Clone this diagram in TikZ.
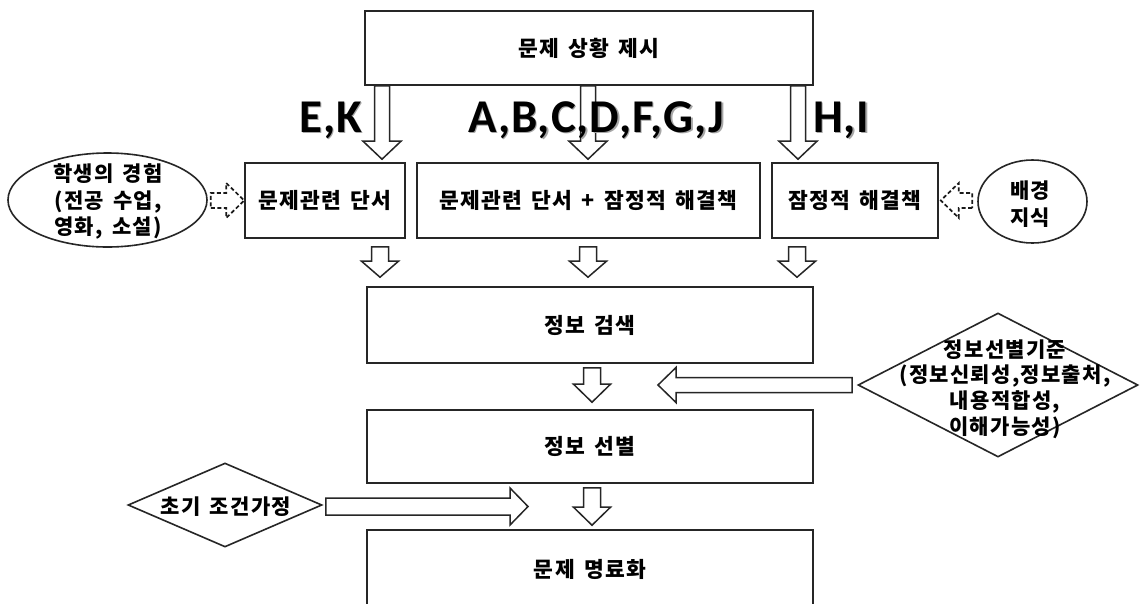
\documentclass[tikz,border=0pt]{standalone}
\usepackage{fontspec}
\newfontfamily\kr[LetterSpace=6, WordSpace=1.5]{Noto Sans CJK KR}
\newfontfamily\lab[LetterSpace=2]{Carlito}
\usetikzlibrary{shapes.geometric,calc}

% hollow block arrows: [style]{start}{tip}{half shaft}{half head}{head length}
\newcommand\bdown[6][]{\draw[blk,#1] let \p1=#2, \p2=#3 in
  (\x1-#4pt,\y1) -- (\x1-#4pt,\y2+#6pt) -- (\x1-#5pt,\y2+#6pt) -- (\x1,\y2)
  -- (\x1+#5pt,\y2+#6pt) -- (\x1+#4pt,\y2+#6pt) -- (\x1+#4pt,\y1) -- cycle;}
\newcommand\bright[6][]{\draw[blk,#1] let \p1=#2, \p2=#3 in
  (\x1,\y1-#4pt) -- (\x2-#6pt,\y1-#4pt) -- (\x2-#6pt,\y1-#5pt) -- (\x2,\y1)
  -- (\x2-#6pt,\y1+#5pt) -- (\x2-#6pt,\y1+#4pt) -- (\x1,\y1+#4pt) -- cycle;}
\newcommand\bleft[6][]{\draw[blk,#1] let \p1=#2, \p2=#3 in
  (\x1,\y1-#4pt) -- (\x2+#6pt,\y1-#4pt) -- (\x2+#6pt,\y1-#5pt) -- (\x2,\y1)
  -- (\x2+#6pt,\y1+#5pt) -- (\x2+#6pt,\y1+#4pt) -- (\x1,\y1+#4pt) -- cycle;}

\tikzset{
  ink/.style={draw=black!85, line width=1.6pt},
  stage/.style={ink, rectangle, fill=white, inner sep=0pt,
    font={\kr\bfseries\fontsize{21.5}{24}\selectfont}},
  source/.style={ink, ellipse, fill=white, inner sep=0pt},
  rule/.style={ink, diamond, fill=white, inner sep=0pt},
  note/.style={align=center, inner sep=0pt},
  blk/.style={draw=black!85, line width=1.5pt, fill=white, line join=miter},
  hint/.style={blk, draw=black!90, line width=1.7pt, dash pattern=on 4pt off 2.5pt},
  tag/.style={inner sep=0pt, font={\lab\bfseries\fontsize{47}{47}\selectfont}},
  tagshade/.style={tag, text=black!35},
}

\begin{document}
\begin{tikzpicture}[x=1pt,y=-1pt]
\useasboundingbox[fill=white] (0,0) rectangle (1143,603);

% main column
\node[stage, minimum width=448pt, minimum height=74pt] (top) at (589,48) {문제 상황 제시};
\node[stage, minimum width=160pt, minimum height=75pt] (b1) at (325,200.5) {문제관련 단서};
\node[stage, minimum width=343pt, minimum height=75pt] (b2) at (588.5,200.5) {문제관련 단서 + 잠정적 해결책};
\node[stage, minimum width=166pt, minimum height=75pt] (b3) at (855,200.5) {잠정적 해결책};
\node[stage, minimum width=446pt, minimum height=76pt] (search) at (590,325) {정보 검색};
\node[stage, minimum width=446pt, minimum height=73pt] (select) at (590,446.5) {정보 선별};
\node[stage, minimum width=446pt, minimum height=78pt] (clarify) at (590,569) {문제 명료화};

% side sources
\node[source, minimum width=199pt, minimum height=94pt] (exp) at (107.5,200) {};
\node[note, font={\kr\bfseries\fontsize{21}{26.5}\selectfont}] (expT) at (108,201.5)
  {학생의 경험\\(전공 수업,\\영화, 소설)};
\node[source, minimum width=109pt, minimum height=83pt] (bg) at (1032.5,201.5) {};
\node[note, font={\kr\bfseries\fontsize{21}{27}\selectfont}] (bgT) at (1030,204) {배경\\지식};

% criteria diamonds
\node[rule, minimum width=280pt, minimum height=144pt] (crit) at (998,385) {};
\node[note, font={\kr\bfseries\fontsize{21}{25.7}\selectfont}] (critT) at (1005,389)
  {정보선별기준\\(정보신뢰성,정보출처,\\내용적합성,\\이해가능성)};
\node[rule, minimum width=194pt, minimum height=84pt] (init) at (225,505) {};
\node[note, font={\kr\bfseries\fontsize{21}{24}\selectfont}] (initT) at (226,507) {초기 조건가정};

% arrow columns
\coordinate (cEK) at (382,0);
\coordinate (cMid) at (588,0);
\coordinate (cHI) at (798,0);
\coordinate (cL) at (380,0);
\coordinate (cR) at (797,0);
\coordinate (cC) at (592,0);

\bdown{(top.south -| cEK)}{($(b1.north -| cEK)+(0,-3)$)}{7.5}{19}{18}
\bdown{(top.south -| cMid)}{($(b2.north -| cMid)+(0,-3)$)}{7.5}{19}{18}
\bdown{(top.south -| cHI)}{($(b3.north -| cHI)+(0,-3)$)}{7.5}{19}{18}

\bdown{($(b1.south -| cL)+(0,8)$)}{($(search.north -| cL)+(0,-9)$)}{8.5}{18.5}{16}
\bdown{($(b2.south -| cMid)+(0,8)$)}{($(search.north -| cMid)+(0,-9)$)}{8.5}{18.5}{16}
\bdown{($(b3.south -| cR)+(0,8)$)}{($(search.north -| cR)+(0,-9)$)}{8.5}{18.5}{16}

\bdown{($(search.south -| cC)+(0,4)$)}{($(select.north -| cC)+(0,-7)$)}{8.5}{18.5}{18}
\bdown{($(select.south -| cC)+(0,4)$)}{($(clarify.north -| cC)+(0,-4)$)}{8.5}{18.5}{18}

% inputs from the side
\coordinate (critTip) at (658,384.5);
\coordinate (initTip) at (528,506.5);
\bleft{($(crit.west)+(-5,0)$)}{(critTip)}{7.5}{17.5}{18}
\bright{($(init.east)+(3,1.5)$)}{(initTip)}{8.5}{18.5}{18}
\bright[hint]{($(exp.east)+(3,0.5)$)}{(b1.west)}{7.5}{17.5}{18}
\bleft[hint]{($(bg.west)+(-5,-1)$)}{($(b3.east)+(2,0)$)}{7.5}{17.5}{18}

% case labels
\node[tagshade, anchor=base east] (ekS) at (363.5,133.5) {E,K};
\node[tag, anchor=base east] (ek) at (362,132) {E,K};
\node[tagshade, anchor=base west] (midS) at (469.5,133.5) {A,B,C,D,F,G,J};
\node[tag, anchor=base west] (mid) at (468,132) {A,B,C,D,F,G,J};
\node[tagshade, anchor=base west] (hiS) at (814.5,133.5) {H,I};
\node[tag, anchor=base west] (hi) at (813,132) {H,I};
\end{tikzpicture}
\end{document}
